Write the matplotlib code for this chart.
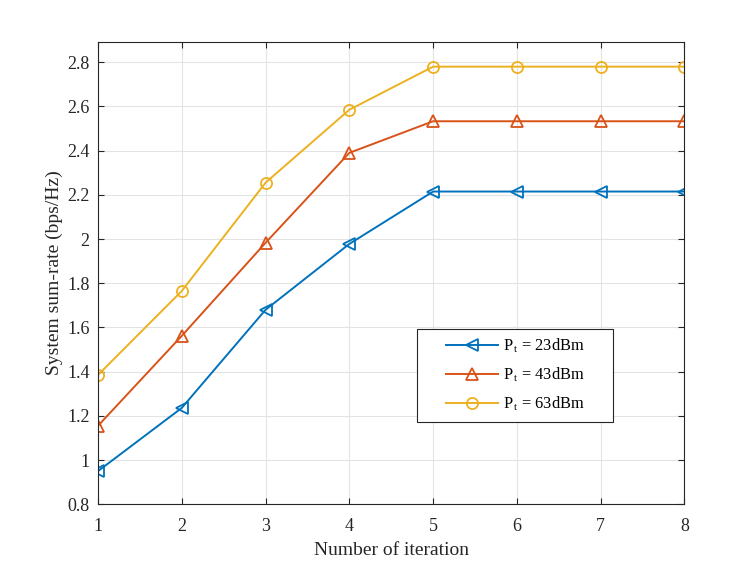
import numpy as np
import matplotlib
matplotlib.use('Agg')
import matplotlib.pyplot as plt
from matplotlib.patches import Rectangle

plt.rcParams['font.family'] = ['Liberation Serif', 'DejaVu Serif']
plt.rcParams['mathtext.fontset'] = 'custom'
plt.rcParams['mathtext.rm'] = 'Liberation Serif'
plt.rcParams['mathtext.it'] = 'Liberation Serif:italic'

# data
iterations = [1, 2, 3, 4, 5, 6, 7, 8]
rate_23dbm = [0.95, 1.236, 1.68, 1.978, 2.215, 2.215, 2.215, 2.215]
rate_43dbm = [1.155, 1.562, 1.983, 2.39, 2.533, 2.533, 2.533, 2.533]
rate_63dbm = [1.385, 1.765, 2.255, 2.585, 2.78, 2.78, 2.78, 2.78]
labels = [r'$\mathregular{P_{\,t}}$ = 23dBm', r'$\mathregular{P_{\,t}}$ = 43dBm',
          r'$\mathregular{P_{\,t}}$ = 63dBm']

fig = plt.figure(figsize=(7.56, 5.67), dpi=100)
ax = fig.add_axes([0.1296, 0.1106, 0.7758, 0.8159])

ax.plot(iterations, rate_23dbm, color='#0072BD', marker='<', markersize=8.5,
        markerfacecolor='none', markeredgewidth=1.3, linewidth=1.4, label=labels[0])
ax.plot(iterations, rate_43dbm, color='#D95319', marker='^', markersize=8.5,
        markerfacecolor='none', markeredgewidth=1.3, linewidth=1.4, label=labels[1])
ax.plot(iterations, rate_63dbm, color='#EDB120', marker='o', markersize=8,
        markerfacecolor='none', markeredgewidth=1.3, linewidth=1.4, label=labels[2])

ax.set_xlim(1, 8)
ax.set_ylim(0.8, 2.893)
ax.set_xticks(iterations)
ax.set_yticks([0.8, 1, 1.2, 1.4, 1.6, 1.8, 2, 2.2, 2.4, 2.6, 2.8])
ax.set_yticklabels(['0.8', '1', '1.2', '1.4', '1.6', '1.8', '2', '2.2', '2.4', '2.6', '2.8'])

ax.grid(True, color='#e3e3e3', linewidth=0.8)
ax.set_axisbelow(True)
ax.tick_params(direction='in', top=True, right=True, labelsize=13, colors='#262626',
               length=4, width=0.8)
ax.tick_params(axis='x', pad=10)
ax.tick_params(axis='y', pad=6)
for s in ax.spines.values():
    s.set_color('#262626')
    s.set_linewidth(0.8)

ax.set_xlabel('Number of iteration', fontsize=14, color='#262626', labelpad=5)
ax.set_ylabel('System sum-rate (bps/Hz)', fontsize=14, color='#262626', labelpad=3)

# legend box drawn separately so the padding matches the reference
ax.add_patch(Rectangle((0.544, 0.1786), 0.3337, 0.2004, transform=ax.transAxes,
                       facecolor='white', edgecolor='#262626', linewidth=0.8, zorder=4))
leg = ax.legend(loc='center', bbox_to_anchor=(0.711, 0.279), frameon=False,
                fontsize=11.8, handlelength=3.2, handletextpad=0.3, labelspacing=0.65,
                borderpad=0)
leg.set_zorder(5)

fig.savefig('out.png', dpi=100)
